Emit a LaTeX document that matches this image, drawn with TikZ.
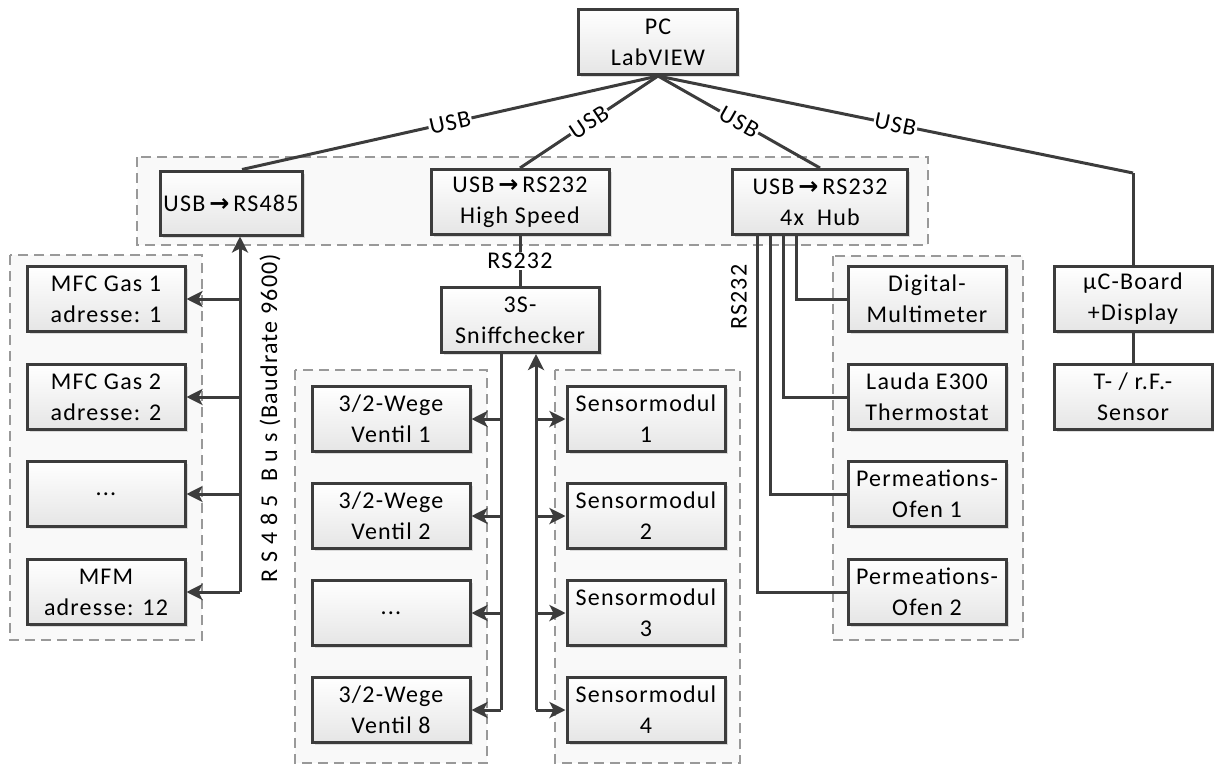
\documentclass[tikz,border=0pt]{standalone}
\usepackage{fontspec}
\setmainfont{Carlito}[LetterSpace=5]
\newfontfamily\arrowfont{DejaVu Sans}
\usetikzlibrary{arrows.meta, positioning, shadows}

\definecolor{wire}{HTML}{3C3C3C}
\newcommand{\conv}{\,{\arrowfont\bfseries →}\,}

\begin{document}
\begin{tikzpicture}[
    x=1pt, y=-1pt,
    every node/.style={font=\fontsize{24}{31}\selectfont},
    unit/.style={draw=wire, line width=3pt, top color=white, bottom color=gray!20,
        align=center, minimum width=158pt, minimum height=65pt, inner sep=2pt,
        drop shadow={shadow xshift=2.5pt, shadow yshift=-2.5pt, opacity=0.25}},
    group/.style={draw=gray!80, line width=1.6pt, dash pattern=on 10pt off 6pt, fill=gray!5},
    link/.style={draw=wire, line width=3pt},
    feed/.style={link, -{Stealth[length=16pt, width=16pt, inset=4pt]}},
    tag/.style={fill=white, inner sep=1pt}
]
    \useasboundingbox (0,0) rectangle (1214,765);

    % dashed groups
    \draw[group] (137,157) rectangle (928,245);
    \draw[group] (10,255) rectangle (202,640);
    \draw[group] (295,370) rectangle (487,763);
    \draw[group] (555,370) rectangle (740,763);
    \draw[group] (833,256) rectangle (1023,640);

    % top
    \node[unit, minimum width=159pt]             (pc)    at (658,42)  {PC\\LabVIEW};
    \node[unit, minimum width=142pt, minimum height=64pt] (rs485) at (231,203) {USB\conv RS485};
    \node[unit, minimum width=178pt]             (hs)    at (520,202) {USB\conv RS232\\High Speed};
    \node[unit, minimum width=175pt]             (hub)   at (820,202) {USB\conv RS232\\4x\ \ Hub};
    \node[unit]                                  (uc)    at (1133,299) {µC-Board\\+Display};
    \node[unit]                                  (trf)   at (1133,397) {T- / r.F.-\\Sensor};

    % RS485 bus
    \node[unit] (mfc1) at (106,299) {MFC Gas 1\\adresse: 1};
    \node[unit] (mfc2) at (106,397) {MFC Gas 2\\adresse: 2};
    \node[unit] (mfcx) at (106,494) {...};
    \node[unit] (mfm)  at (106,592) {MFM\\adresse: 12};

    % sniffchecker
    \node[unit] (sniff) at (520,320) {3S-\\Sniffchecker};
    \node[unit] (v1) at (391,419) {3/2-Wege\\Ventil 1};
    \node[unit] (v2) at (391,516) {3/2-Wege\\Ventil 2};
    \node[unit] (vx) at (391,613) {...};
    \node[unit] (v8) at (391,710) {3/2-Wege\\Ventil 8};
    \node[unit] (s1) at (646,419) {Sensormodul\\1};
    \node[unit] (s2) at (646,516) {Sensormodul\\2};
    \node[unit] (s3) at (646,613) {Sensormodul\\3};
    \node[unit] (s4) at (646,710) {Sensormodul\\4};

    % hub devices
    \node[unit] (dmm)   at (927,299) {Digital-\\Multimeter};
    \node[unit] (lauda) at (927,397) {Lauda E300\\Thermostat};
    \node[unit] (ofen1) at (927,494) {Permeations-\\Ofen 1};
    \node[unit] (ofen2) at (927,592) {Permeations-\\Ofen 2};

    \coordinate (bus)  at (240,0);
    \coordinate (vbus) at (501,0);
    \coordinate (sbus) at (536,0);
    \coordinate (ucbend) at (1133,173);
    \coordinate (h1) at (796,0);
    \coordinate (h2) at (783,0);
    \coordinate (h3) at (770,0);
    \coordinate (h4) at (757,0);

    % USB links
    \path[link]
        (pc.south) edge node[tag, sloped]{USB} (rs485.north -| 242,0)
        (pc.south) edge node[tag, sloped]{USB} (hs.north)
        (pc.south) edge node[tag, sloped]{USB} (hub.north)
        (pc.south) edge node[tag, sloped, pos=0.5]{USB} (ucbend);
    \draw[link] (ucbend) -- (uc.north);
    \draw[link] (uc.south) -- (trf.north);

    % RS485 bus
    \draw[feed] (bus |- mfm.east) -- (bus |- rs485.south);
    \foreach \n in {mfc1, mfc2, mfcx, mfm}
        \draw[feed] (bus |- \n.east) -- (\n.east);
    \node[rotate=90] (buslbl) at (270,418) {R S 4 8 5 \ B u s (Baudrate 9600)};

    % RS232 to sniffchecker
    \draw[link] (hs.south) -- node[tag]{RS232} (sniff.north);
    \draw[link] (vbus |- sniff.south) -- (vbus |- v8.east);
    \foreach \n in {v1, v2, vx, v8}
        \draw[feed] (vbus |- \n.east) -- (\n.east);
    \draw[feed] (sbus |- s4.west) -- (sbus |- sniff.south);
    \foreach \n in {s1, s2, s3, s4}
        \draw[feed] (sbus |- \n.west) -- (\n.west);

    % hub lines
    \draw[link] (h1 |- hub.south) |- (dmm.west);
    \draw[link] (h2 |- hub.south) |- (lauda.west);
    \draw[link] (h3 |- hub.south) |- (ofen1.west);
    \draw[link] (h4 |- hub.south) |- (ofen2.west);
    \node[rotate=90] (rslbl) at (739,297) {RS232};
\end{tikzpicture}
\end{document}
